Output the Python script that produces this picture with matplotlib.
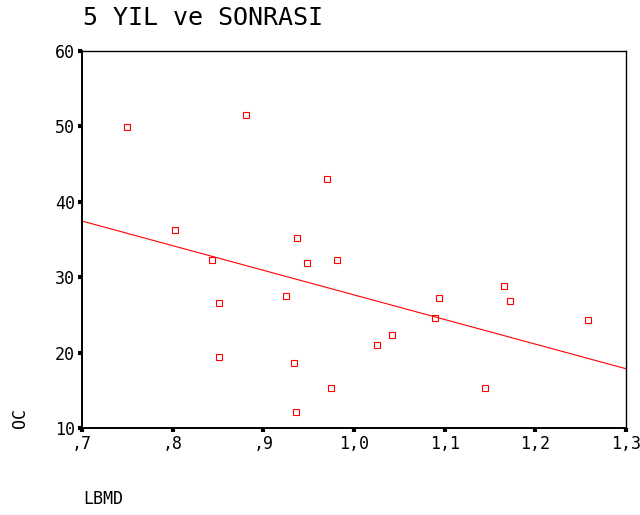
import numpy as np
import matplotlib
matplotlib.use("Agg")
import matplotlib.pyplot as plt

plt.rcParams['font.family'] = ['DejaVu Sans Mono', 'DejaVu Sans']

# Data (LBMD vs OC)
lbmd = [0.750, 0.881, 0.803, 0.843, 0.851, 0.851, 0.925, 0.937, 0.948, 0.970, 0.981,
        0.934, 0.975, 0.936, 1.026, 1.042, 1.089, 1.094, 1.165, 1.172, 1.145, 1.258]
oc = [49.9, 51.5, 36.3, 32.3, 26.6, 19.4, 27.5, 35.2, 31.9, 43.0, 32.3,
      18.6, 15.3, 12.1, 21.0, 22.3, 24.6, 27.2, 28.8, 26.8, 15.3, 24.3]

x_ticks = [0.7, 0.8, 0.9, 1.0, 1.1, 1.2, 1.3]
x_tick_labels = [',7', ',8', ',9', '1,0', '1,1', '1,2', '1,3']
y_ticks = [10, 20, 30, 40, 50, 60]

fig = plt.figure(figsize=(6.4, 5.15), dpi=100)
ax = fig.add_axes([0.128, 0.169, 0.850, 0.732])

ax.plot(lbmd, oc, linestyle='none', marker='s', markersize=4.5,
        markerfacecolor='white', markeredgecolor='#ff0000', markeredgewidth=0.8)

# linear fit line
slope, intercept = np.polyfit(lbmd, oc, 1)
xx = np.array([x_ticks[0], x_ticks[-1]])
ax.plot(xx, slope * xx + intercept, color='#ff0000', linewidth=0.8)

ax.set_xlim(x_ticks[0], x_ticks[-1])
ax.set_ylim(y_ticks[0], y_ticks[-1])
ax.set_xticks(x_ticks)
ax.set_xticklabels(x_tick_labels)
ax.set_yticks(y_ticks)
ax.tick_params(direction='out', length=3, width=3, labelsize=12, pad=2)

for side in ['left', 'bottom']:
    ax.spines[side].set_linewidth(1.4)
for side in ['top', 'right']:
    ax.spines[side].set_linewidth(1.0)

fig.text(0.130, 0.965, '5 YIL ve SONRASI', fontsize=18, va='center', ha='left')
fig.text(0.130, 0.032, 'LBMD', fontsize=12, va='center', ha='left')
fig.text(0.031, 0.188, 'OC', fontsize=12, va='center', ha='center', rotation=90)

fig.savefig('out.png', dpi=100)
